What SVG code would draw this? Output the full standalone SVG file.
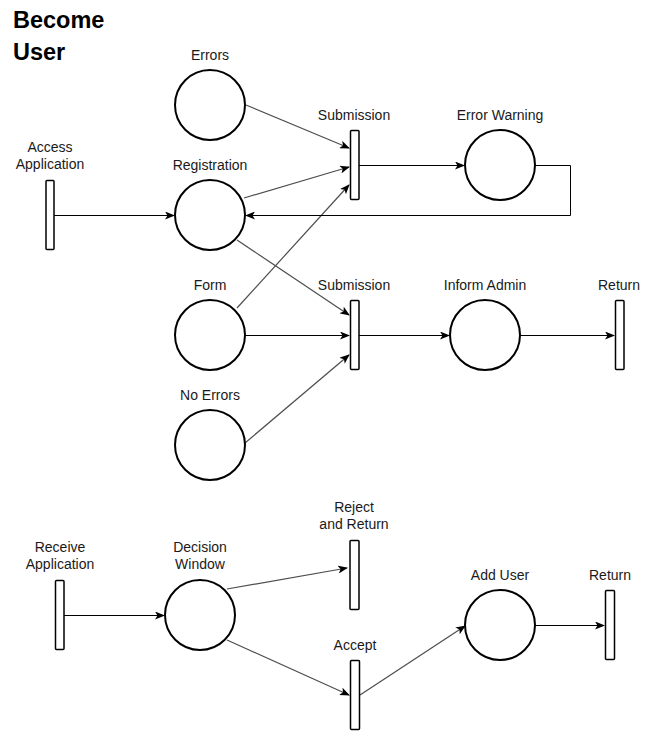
<svg xmlns="http://www.w3.org/2000/svg" width="670" height="731" viewBox="0 0 670 731">
<style>
text{font-family:"Liberation Sans",Arial,sans-serif;font-size:14px;fill:#1a1a1a;text-anchor:middle}
.title{font-size:23.5px;font-weight:bold;text-anchor:start;fill:#000}
.place{fill:#fff;stroke:#000;stroke-width:2}
.bar{fill:#fff;stroke:#000;stroke-width:1.5}
.arc{fill:none;stroke:#000;stroke-width:1;marker-end:url(#arr)}
.gray{stroke:#4d4d4d;stroke-width:1.2}
</style>
<defs>
<marker id="arr" viewBox="0 0 10 8" refX="9" refY="4" markerWidth="10" markerHeight="8" markerUnits="userSpaceOnUse" orient="auto">
<path d="M0,0 L10,4 L0,8 L2.5,4 z" fill="#000"/>
</marker>
</defs>
<text class="title" x="13" y="27.5">Become</text>
<text class="title" x="13" y="60">User</text>
<g id="connectors">
<path class="arc" d="M54,215.5 H174"/>
<path class="arc gray" d="M246,105 L349,148"/>
<path class="arc gray" d="M244,198 L349,167"/>
<path class="arc gray" d="M237,308 L349,185"/>
<path class="arc gray" d="M237,240 L349,315"/>
<path class="arc" d="M245,335.5 H349"/>
<path class="arc gray" d="M245,443 L349,355"/>
<path class="arc" d="M359,165.5 H464"/>
<path class="arc" d="M535,165.5 H570.5 V215.5 H246"/>
<path class="arc" d="M359,335.5 H449"/>
<path class="arc" d="M520,335.5 H614"/>
<path class="arc" d="M64,615.5 H164"/>
<path class="arc gray" d="M227,589 L347,568"/>
<path class="arc gray" d="M227,640 L349,695"/>
<path class="arc gray" d="M360,695 L465,626"/>
<path class="arc" d="M535,625.5 H604"/>
</g>
<g id="n-errors"><circle class="place" cx="210" cy="105" r="35"/><text x="210" y="60">Errors</text></g>
<g id="n-registration"><circle class="place" cx="210" cy="215" r="35"/><text x="210" y="170">Registration</text></g>
<g id="n-form"><circle class="place" cx="210" cy="335" r="35"/><text x="210" y="290">Form</text></g>
<g id="n-noerrors"><circle class="place" cx="210" cy="445" r="35"/><text x="210" y="400">No Errors</text></g>
<g id="n-errorwarning"><circle class="place" cx="500" cy="165" r="35"/><text x="500" y="120">Error Warning</text></g>
<g id="n-informadmin"><circle class="place" cx="485" cy="335" r="35"/><text x="485" y="290">Inform Admin</text></g>
<g id="n-decision"><circle class="place" cx="200" cy="615" r="35"/><text x="200" y="552">Decision</text><text x="200" y="569">Window</text></g>
<g id="n-adduser"><circle class="place" cx="500" cy="625" r="35"/><text x="500" y="580">Add User</text></g>
<g id="t-access"><rect class="bar" x="46" y="180.5" width="8" height="69" rx="1"/><text x="50" y="152">Access</text><text x="50" y="169">Application</text></g>
<g id="t-submission1"><rect class="bar" x="350.5" y="130.5" width="8.5" height="69" rx="1"/><text x="354" y="120">Submission</text></g>
<g id="t-submission2"><rect class="bar" x="350.5" y="300.5" width="8.5" height="69" rx="1"/><text x="354" y="290">Submission</text></g>
<g id="t-return1"><rect class="bar" x="615.5" y="300.5" width="8.5" height="69" rx="1"/><text x="619" y="290">Return</text></g>
<g id="t-receive"><rect class="bar" x="55.5" y="580.5" width="8.5" height="69" rx="1"/><text x="60" y="552">Receive</text><text x="60" y="569">Application</text></g>
<g id="t-reject"><rect class="bar" x="350" y="540.5" width="9" height="69" rx="1"/><text x="354" y="512">Reject</text><text x="354" y="529">and Return</text></g>
<g id="t-accept"><rect class="bar" x="350.5" y="660.5" width="9" height="69" rx="1"/><text x="355" y="650">Accept</text></g>
<g id="t-return2"><rect class="bar" x="605.5" y="590.5" width="9" height="69" rx="1"/><text x="610" y="580">Return</text></g>
</svg>
